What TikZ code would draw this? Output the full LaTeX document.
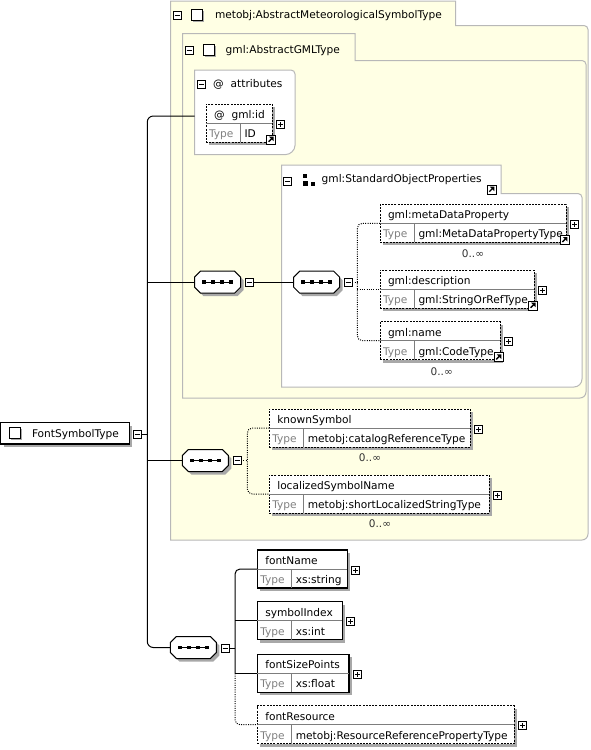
\documentclass[tikz,border=0pt]{standalone}
\usepackage{fontspec}
\setmainfont{DejaVu Sans}
\usetikzlibrary{shadows}
\definecolor{frameY}{RGB}{255,255,228}
\definecolor{frameB}{RGB}{184,184,184}
\definecolor{shadowc}{RGB}{168,168,168}
\definecolor{typec}{RGB}{128,128,128}
\definecolor{divc}{RGB}{125,125,125}
\tikzset{
  every node/.style={font=\fontsize{10.6pt}{12pt}\selectfont},
  lbl/.style={anchor=base west, inner sep=0pt, outer sep=0pt},
  cardl/.style={inner sep=0pt, font=\fontsize{10.5pt}{12pt}\selectfont, text=black!80},
  framestyle/.style={draw=frameB, line width=1pt},
  iconsq/.style={draw=black, fill=white, line width=0.8pt, minimum size=8pt, inner sep=0pt, outer sep=0pt},
  elbox/.style={draw=black, fill=white, minimum height=38pt, inner sep=0pt, outer sep=0pt,
     drop shadow={shadow xshift=3pt, shadow yshift=-3pt, fill=shadowc, opacity=1}},
  solidbox/.style={line width=1.1pt},
  dotbox/.style={line width=1pt, dash pattern=on 2pt off 1.2pt},
  divline/.style={draw=divc, line width=0.8pt},
  conn/.style={draw=black, line width=1pt},
  dconn/.style={draw=black, line width=1pt, dash pattern=on 1pt off 1.3pt},
}
\newcommand{\plusbox}[3]{%
  \node[iconsq, anchor=north west] (#1) at ({#2},{#3}) {};
  \draw[line width=0.8pt] ([xshift=-2.5pt]#1.center) -- ([xshift=2.5pt]#1.center);
  \draw[line width=0.8pt] ([yshift=-2.5pt]#1.center) -- ([yshift=2.5pt]#1.center);
}
\newcommand{\minusbox}[3]{%
  \node[iconsq, anchor=north west] (#1) at ({#2},{#3}) {};
  \draw[line width=0.8pt] ([xshift=-2.5pt]#1.center) -- ([xshift=2.5pt]#1.center);
}
\newcommand{\linkicon}[2]{%
  \filldraw[fill=white, draw=black, line width=0.9pt] ({#1},{#2}) rectangle ++(9,9);
  \draw[line width=1.4pt] ({#1+2.3},{#2+6.7}) -- ({#1+5.3},{#2+3.7});
  \fill ({#1+7.3},{#2+1.7}) -- ({#1+7.3},{#2+6.2}) -- ({#1+2.8},{#2+1.7}) -- cycle;
}
\newcommand{\emptysq}[3]{%
  \fill[shadowc] ({#2+1.5},{#3+1.5}) rectangle ++(11,11);
  \node[draw=black, fill=white, line width=0.9pt, minimum size=11pt, inner sep=0pt, outer sep=0pt, anchor=north west] (#1) at ({#2},{#3}) {};
}
\newcommand{\elem}[8]{%
  \node[elbox, #7, minimum width=#4pt, anchor=north west] (#1) at ({#2},{#3}) {};
  \draw[divline] (#1.west) -- (#1.east);
  \draw[divline] ({#2+34},{#3+19}) -- ({#2+34},{#3+38});
  \node[lbl] (#1-n) at ({#2+8},{#3+14.5}) {#5};
  \node[lbl, text=typec] (#1-t) at ({#2+3},{#3+33.5}) {Type};
  \node[lbl] (#1-v) at ({#2+38.5},{#3+33.5}) {#6};
  \plusbox{#1-p}{#2+#4+4.5}{#3+16}
  \ifnum#8=1 \linkicon{#2+#4-6}{#3+31}\fi
}
\newcommand{\octpath}{(-23,-5) -- (-23,5) -- (-17,11) -- (17,11) -- (23,5) -- (23,-5) -- (17,-11) -- (-17,-11) -- cycle}
\newcommand{\seqbox}[3]{%
  \node[inner sep=0pt, outer sep=0pt, minimum width=46pt, minimum height=22pt] (#1) at ({#2},{#3}) {};
  \fill[shadowc, shift={({#2+3},{#3+3})}] \octpath;
  \filldraw[fill=white, draw=black, line width=1pt, shift={({#2},{#3})}] \octpath;
  \draw[line width=1pt, shift={({#2},{#3})}] (-15,0) -- (15,0);
  \foreach \dx in {-13.5,-4.5,4.5,13.5} {\fill[shift={({#2},{#3})}] ({\dx-1.8},-1.8) rectangle ({\dx+1.8},1.8);}
}
\newcommand{\tabframe}[8]{%
  \filldraw[framestyle, fill=#7] ({#1},{#6}) -- ({#1},{#2}) -- ({#3},{#2}) -- ({#3},{#4}) -- ({#5-4},{#4})
    .. controls ({#5-1.8},{#4}) and ({#5},{#4+1.8}) .. ({#5},{#4+4})
    -- ({#5},{#6-#8}) .. controls ({#5},{#6-0.45*#8}) and ({#5-0.45*#8},{#6}) .. ({#5-#8},{#6}) -- cycle;
}
\begin{document}
\begin{tikzpicture}[x=1pt,y=-1pt]
\useasboundingbox (0,0) rectangle (590,750);
% frames
\tabframe{170.5}{1}{455.5}{25.5}{588}{540}{frameY}{6}
\tabframe{182.5}{33.5}{355}{60.5}{586}{398}{frameY}{6}
\filldraw[framestyle, fill=white] (194.5,154.5) -- (194.5,70) -- (291,70) .. controls (293.2,70) and (295,71.8) .. (295,74)
   -- (295,145.5) .. controls (295,150.5) and (290,154.5) .. (286,154.5) -- cycle;
\tabframe{281.5}{165}{501}{193.5}{582}{387}{white}{8}
% tab headings
\minusbox{m1}{173}{11}
\emptysq{sq1}{191.5}{9.5}
\node[lbl] (t1) at (215,18.5) {metobj:AbstractMeteorologicalSymbolType};
\minusbox{m2}{185}{46.5}
\emptysq{sq2}{203.5}{44}
\node[lbl] (t2) at (225.7,53.5) {gml:AbstractGMLType};
\minusbox{m3}{197.5}{80}
\node[lbl] (t3a) at (213,87.5) {@};
\node[lbl] (t3) at (230.7,87.5) {attributes};
\minusbox{m4}{283.5}{177.5}
\fill (303.3,174) rectangle (307.3,178);
\fill (303.3,181) rectangle (308,185.5);
\fill (310.7,181.5) rectangle (315,185.5);
\node[lbl] (t4) at (321.7,182) {gml:StandardObjectProperties};
\linkicon{487}{185}
% attribute
\elem{gmlid}{206}{104}{66.3}{@\hspace{7pt}gml:id}{ID}{dotbox}{1}
% elements
\elem{mdp}{380}{204.3}{186}{gml:metaDataProperty}{gml:MetaDataPropertyType}{dotbox}{1}
\elem{desc}{380}{270}{154.3}{gml:description}{gml:StringOrRefType}{dotbox}{1}
\elem{gname}{380}{321.7}{120}{gml:name}{gml:CodeType}{dotbox}{1}
\elem{known}{269.3}{409}{200.7}{knownSymbol}{metobj:catalogReferenceType}{dotbox}{0}
\elem{locname}{269.3}{475}{219.7}{localizedSymbolName}{metobj:shortLocalizedStringType}{dotbox}{0}
\elem{fontName}{257.3}{550}{90}{fontName}{xs:string}{solidbox}{0}
\elem{symbolIndex}{257.3}{601.7}{85}{symbolIndex}{xs:int}{solidbox}{0}
\elem{fontSizePoints}{257.3}{654.3}{91.7}{fontSizePoints}{xs:float}{solidbox}{0}
\elem{fontResource}{257.3}{705.7}{257}{fontResource}{metobj:ResourceReferencePropertyType}{dotbox}{0}
% cardinalities
\node[cardl] (c1) at (473,253.3) {0..∞};
\node[cardl] (c2) at (441.7,371.7) {0..∞};
\node[cardl] (c3) at (370,457.3) {0..∞};
\node[cardl] (c4) at (380,523.3) {0..∞};
% root
\node[draw=black, fill=white, line width=1.3pt, minimum width=128.6pt, minimum height=21.3pt, inner sep=0pt, outer sep=0pt,
  anchor=north west, drop shadow={shadow xshift=3pt, shadow yshift=-3pt, fill=shadowc, opacity=1}] (root) at (0.7,422.7) {};
\emptysq{sqr}{9.5}{427.5}
\node[lbl] (rootl) at (32,437) {FontSymbolType};
\minusbox{rootm}{133.3}{430}
% sequences
\seqbox{s1}{217.5}{282.2}
\minusbox{s1m}{245}{278.2}
\seqbox{s2}{316.7}{282.2}
\minusbox{s2m}{344.2}{278.8}
\seqbox{s3}{205.3}{460.5}
\minusbox{s3m}{233}{456.5}
\seqbox{s4}{193.3}{647.5}
\minusbox{s4m}{221}{644}
% connector helpers
\coordinate (trunk) at (147.3,0);
\coordinate (attin) at (194.5,116);
\coordinate (vx2) at (357.3,0);
\coordinate (vx3) at (247.3,0);
\coordinate (vx4) at (235,0);
% connectors
\draw[conn, rounded corners=6pt] (attin) -- (trunk|-attin) -- (trunk|-s4) -- (s4.west);
\draw[conn] (rootm.east) -- (trunk|-rootm);
\draw[conn] (trunk|-s1) -- (s1.west);
\draw[conn] (trunk|-s3) -- (s3.west);
\draw[conn] (s1m.east) -- (s2.west);
\draw[dconn, rounded corners=5pt] (mdp.west) -- (vx2|-mdp.west) -- (vx2|-gname.west) -- (gname.west);
\draw[dconn] (s2m.east) -- (vx2|-s2m);
\draw[dconn] (vx2|-desc.west) -- (desc.west);
\draw[dconn, rounded corners=5pt] (known.west) -- (vx3|-known.west) -- (vx3|-locname.west) -- (locname.west);
\draw[dconn] (s3m.east) -- (vx3|-s3m);
\draw[conn, rounded corners=5pt] (fontName.west) -- (vx4|-fontName.west) -- (vx4|-fontSizePoints.west);
\draw[conn] (vx4|-symbolIndex.west) -- (symbolIndex.west);
\draw[conn] (vx4|-fontSizePoints.west) -- (fontSizePoints.west);
\draw[conn] (s4m.east) -- (vx4|-s4m);
\draw[dconn, rounded corners=5pt] (vx4|-fontSizePoints.west) -- (vx4|-fontResource.west) -- (fontResource.west);
\end{tikzpicture}
\end{document}
